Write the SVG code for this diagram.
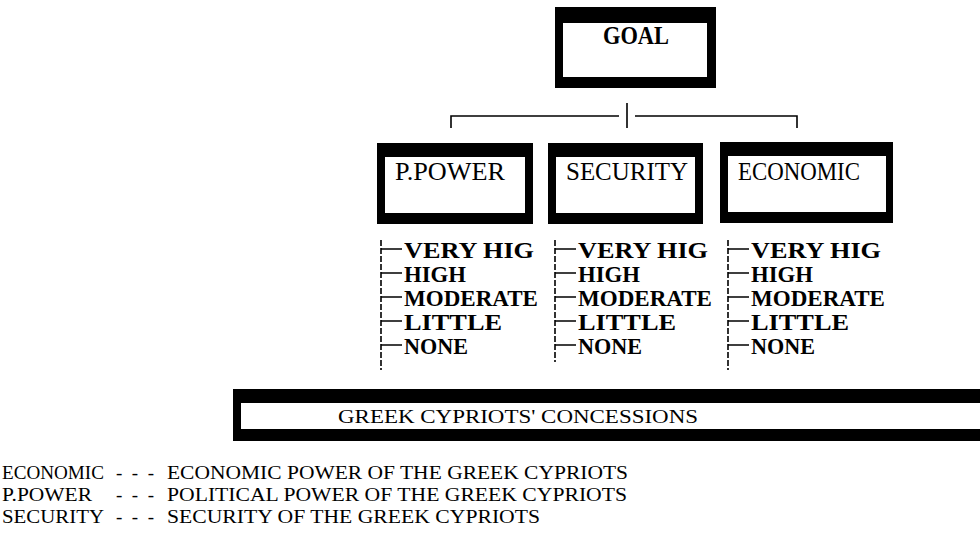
<svg xmlns="http://www.w3.org/2000/svg" width="980" height="535" viewBox="0 0 980 535">
<style>
.frame{fill:#000}
.inner{fill:#fff}
.goal{font-family:"Liberation Serif",serif;font-size:25px;font-weight:bold;fill:#000}
.lbl{font-family:"Liberation Serif",serif;font-size:25px;fill:#000}
.item{font-family:"Liberation Serif",serif;font-size:23px;font-weight:bold;fill:#000}
.leg{font-family:"Liberation Serif",serif;font-size:19px;fill:#000}
.conn{stroke:#000;stroke-width:1.6;fill:none}
.dash{stroke-dasharray:6 2}
</style>
<rect width="980" height="535" fill="#fff"/>
<g id="goal">
<rect class="frame" x="555" y="7" width="161" height="81"/>
<rect class="inner" x="563" y="23" width="144" height="54"/>
<text class="goal" x="603" y="44" textLength="66" lengthAdjust="spacingAndGlyphs">GOAL</text>
</g>
<g id="connectors">
<path class="conn" d="M627 103V128M451 128V116H619M635 116H797V128"/>
</g>
<g id="ppower">
<rect class="frame" x="377" y="143" width="156" height="81"/>
<rect class="inner" x="385" y="157" width="140" height="56"/>
<text class="lbl" x="395" y="180" textLength="110" lengthAdjust="spacingAndGlyphs">P.POWER</text>
</g>
<g id="security">
<rect class="frame" x="548" y="143" width="155" height="81"/>
<rect class="inner" x="556" y="157" width="139" height="56"/>
<text class="lbl" x="566" y="180" textLength="122" lengthAdjust="spacingAndGlyphs">SECURITY</text>
</g>
<g id="economic">
<rect class="frame" x="720" y="142" width="173" height="81"/>
<rect class="inner" x="728" y="156" width="158" height="56"/>
<text class="lbl" x="738" y="180" textLength="122" lengthAdjust="spacingAndGlyphs">ECONOMIC</text>
</g>
<g id="scale-ppower">
<path class="conn dash" d="M381 240V370"/>
<path class="conn" d="M381 249H402M381 273H402M381 297H402M381 321H402M381 345H402"/>
<text class="item" x="404" y="258" textLength="130" lengthAdjust="spacingAndGlyphs">VERY HIG</text>
<text class="item" x="404" y="282" textLength="62" lengthAdjust="spacingAndGlyphs">HIGH</text>
<text class="item" x="404" y="306" textLength="134" lengthAdjust="spacingAndGlyphs">MODERATE</text>
<text class="item" x="404" y="330" textLength="98" lengthAdjust="spacingAndGlyphs">LITTLE</text>
<text class="item" x="404" y="354" textLength="64" lengthAdjust="spacingAndGlyphs">NONE</text>
</g>
<g id="scale-security">
<path class="conn dash" d="M555 240V362"/>
<path class="conn" d="M555 249H576M555 273H576M555 297H576M555 321H576M555 345H576"/>
<text class="item" x="578" y="258" textLength="130" lengthAdjust="spacingAndGlyphs">VERY HIG</text>
<text class="item" x="578" y="282" textLength="62" lengthAdjust="spacingAndGlyphs">HIGH</text>
<text class="item" x="578" y="306" textLength="134" lengthAdjust="spacingAndGlyphs">MODERATE</text>
<text class="item" x="578" y="330" textLength="98" lengthAdjust="spacingAndGlyphs">LITTLE</text>
<text class="item" x="578" y="354" textLength="64" lengthAdjust="spacingAndGlyphs">NONE</text>
</g>
<g id="scale-economic">
<path class="conn dash" d="M728 240V370"/>
<path class="conn" d="M728 249H749M728 273H749M728 297H749M728 321H749M728 345H749"/>
<text class="item" x="751" y="258" textLength="130" lengthAdjust="spacingAndGlyphs">VERY HIG</text>
<text class="item" x="751" y="282" textLength="62" lengthAdjust="spacingAndGlyphs">HIGH</text>
<text class="item" x="751" y="306" textLength="134" lengthAdjust="spacingAndGlyphs">MODERATE</text>
<text class="item" x="751" y="330" textLength="98" lengthAdjust="spacingAndGlyphs">LITTLE</text>
<text class="item" x="751" y="354" textLength="64" lengthAdjust="spacingAndGlyphs">NONE</text>
</g>
<g id="concessions">
<rect class="frame" x="233" y="389" width="760" height="52"/>
<rect class="inner" x="241" y="403" width="750" height="26"/>
<text class="leg" x="338" y="423" textLength="360" lengthAdjust="spacingAndGlyphs">GREEK CYPRIOTS' CONCESSIONS</text>
</g>
<g id="legend">
<text class="leg" x="2" y="479" textLength="102" lengthAdjust="spacingAndGlyphs">ECONOMIC</text>
<text class="leg" x="116" y="479" textLength="38" lengthAdjust="spacing">---</text>
<text class="leg" x="167" y="479" textLength="461" lengthAdjust="spacingAndGlyphs">ECONOMIC POWER OF THE GREEK CYPRIOTS</text>
<text class="leg" x="2" y="501" textLength="90" lengthAdjust="spacingAndGlyphs">P.POWER</text>
<text class="leg" x="116" y="501" textLength="38" lengthAdjust="spacing">---</text>
<text class="leg" x="167" y="501" textLength="460" lengthAdjust="spacingAndGlyphs">POLITICAL POWER OF THE GREEK CYPRIOTS</text>
<text class="leg" x="2" y="523" textLength="102" lengthAdjust="spacingAndGlyphs">SECURITY</text>
<text class="leg" x="116" y="523" textLength="38" lengthAdjust="spacing">---</text>
<text class="leg" x="167" y="523" textLength="373" lengthAdjust="spacingAndGlyphs">SECURITY OF THE GREEK CYPRIOTS</text>
</g>
</svg>
